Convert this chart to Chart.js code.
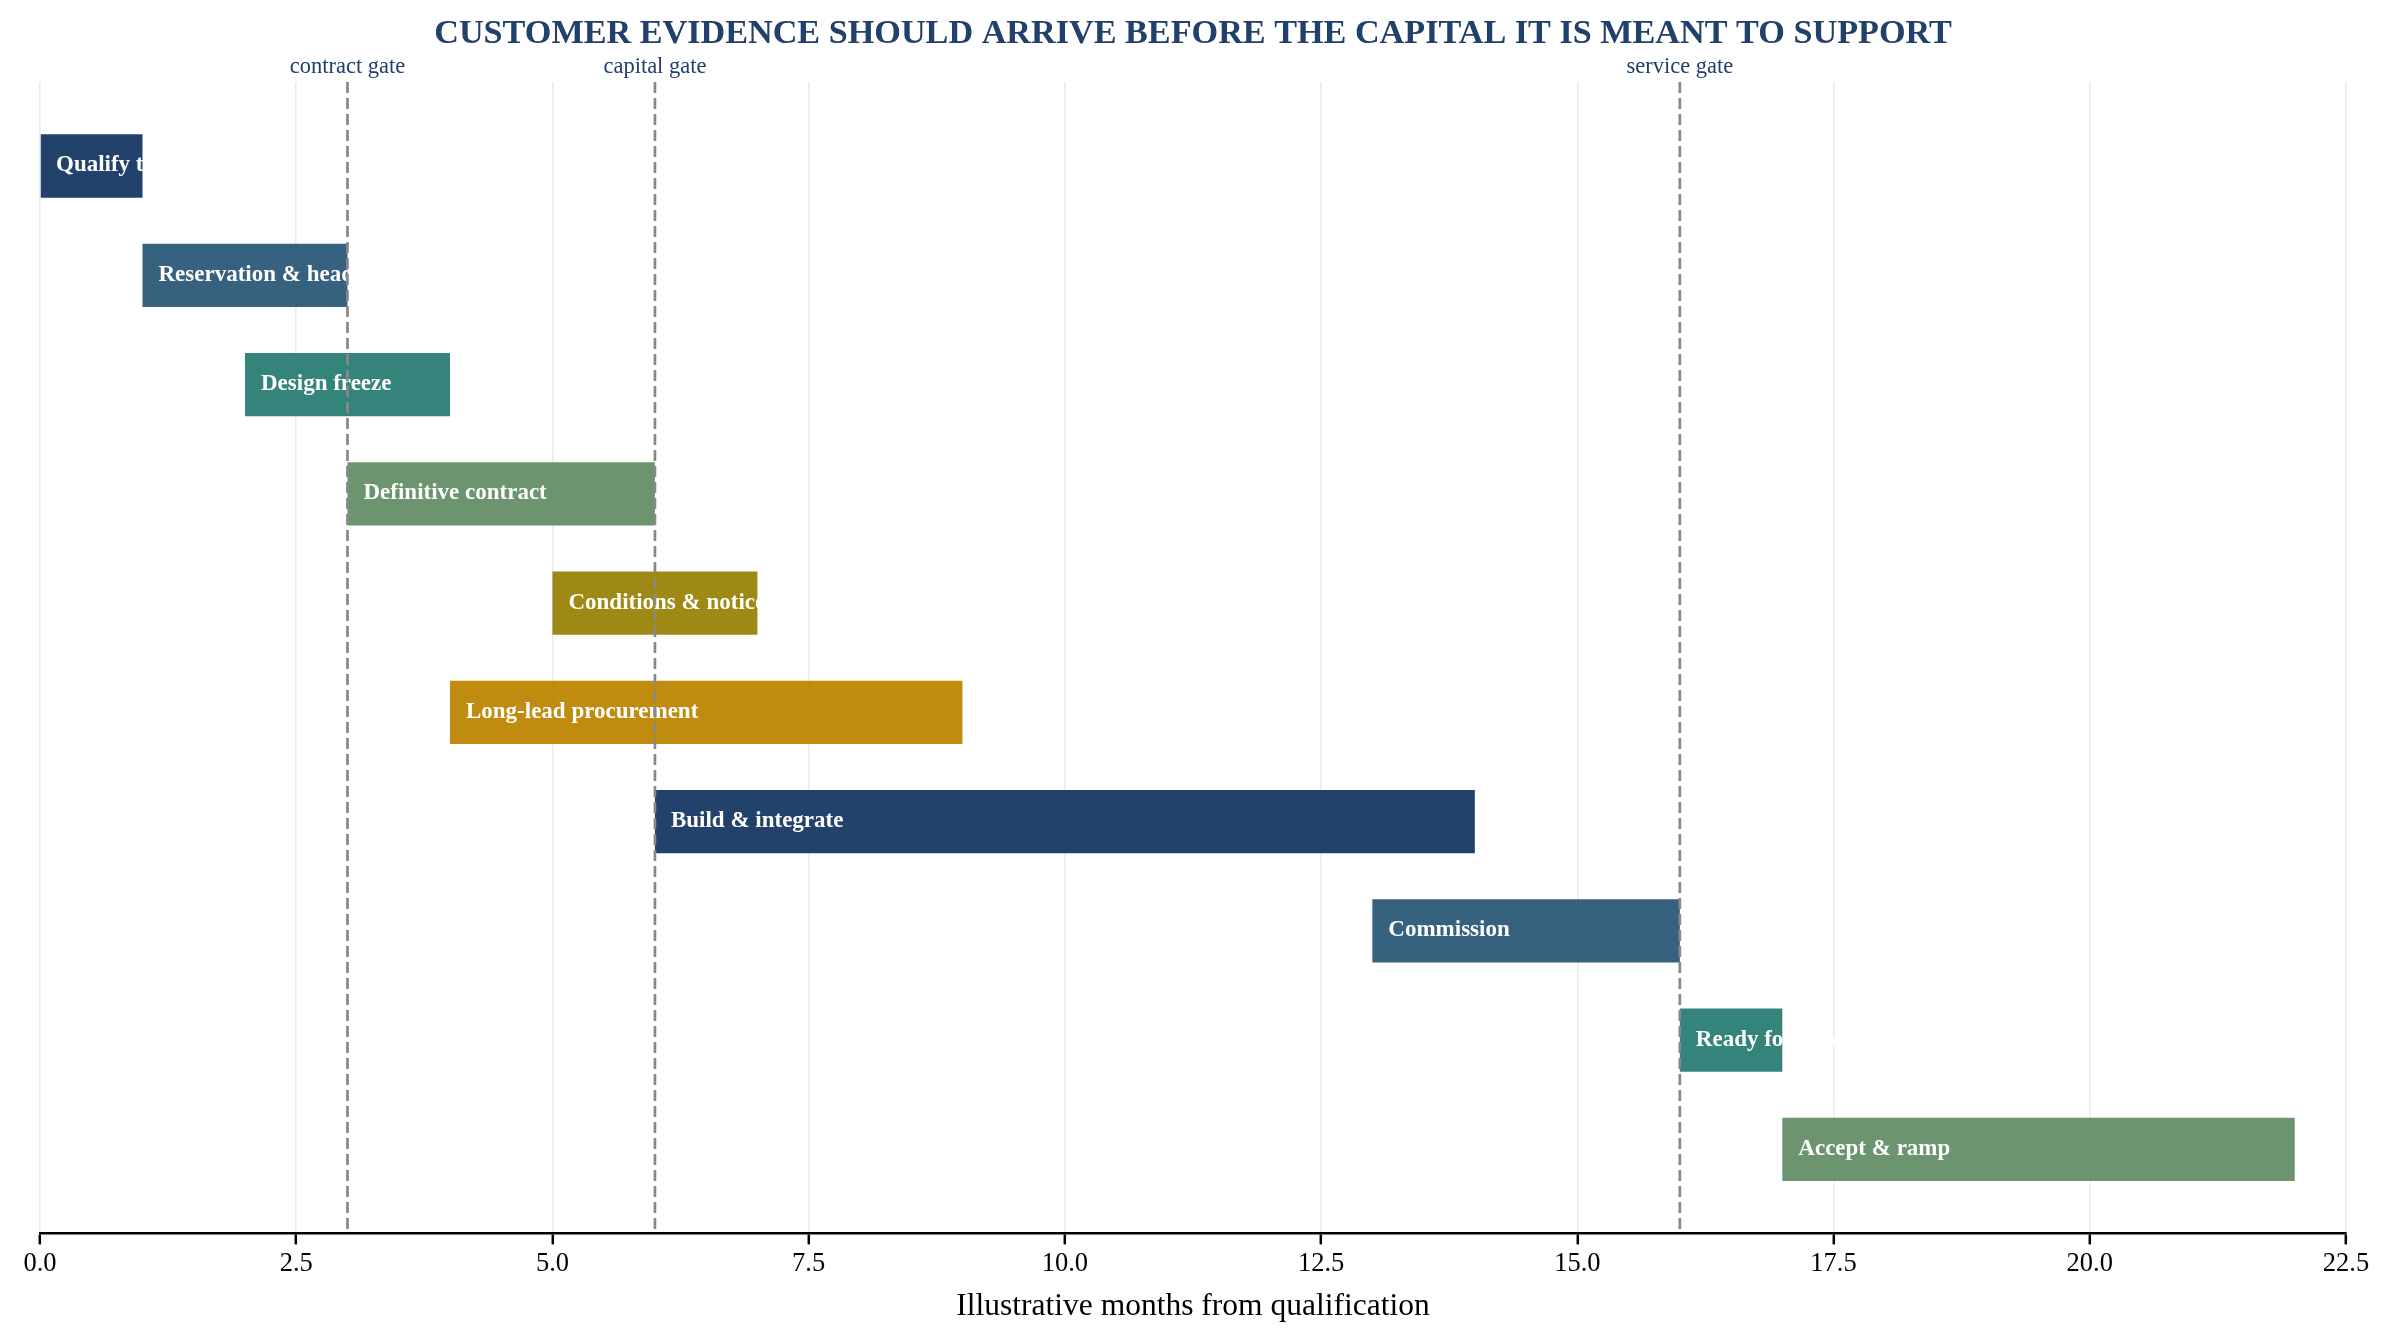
<!DOCTYPE html>
<html>
<head>
<meta charset="utf-8">
<script src="https://cdn.jsdelivr.net/npm/chart.js@4.4.1/dist/chart.umd.min.js"></script>
<style>
  html, body { margin: 0; padding: 0; background: #ffffff; }
  #wrap { width: 2394px; height: 1342px; position: relative; }
</style>
</head>
<body>
<div id="wrap"><canvas id="gantt"></canvas></div>
<script>
// phases, top to bottom
const phases = [
    'Qualify the customer',
    'Reservation & heads of terms',
    'Design freeze',
    'Definitive contract',
    'Conditions & notice to proceed',
    'Long-lead procurement',
    'Build & integrate',
    'Commission',
    'Ready for service',
    'Accept & ramp',
];
const startMonth = [0, 1, 2, 3, 5, 4, 6, 13, 16, 17];
const endMonth = [1, 3, 4, 6, 7, 9, 14, 16, 17, 22];

// milestone gates
const gateNames = ['contract gate', 'capital gate', 'service gate'];
const gateMonth = [3, 6, 16];

// x ticks
const xTicks = [0, 2.5, 5, 7.5, 10, 12.5, 15, 17.5, 20, 22.5];

const palette = ['#173863', '#2b5a79', '#297d75', '#648e67', '#9a8308', '#bd8602'];
const navy = '#21406a';
const serif = '"Liberation Serif", "Times New Roman", serif';

function withAlpha(hex, a) {
    const n = parseInt(hex.slice(1), 16);
    return 'rgba(' + (n >> 16) + ',' + ((n >> 8) & 255) + ',' + (n & 255) + ',' + a + ')';
}

const barData = phases.map((p, i) => ({ x: [startMonth[i], endMonth[i]], y: i }));

// white labels inside the bars, then the dashed gates on top
const ganttOverlay = {
    id: 'ganttOverlay',
    afterDraw(chart) {
        const ctx = chart.ctx;
        const xs = chart.scales.x;
        const area = chart.chartArea;
        const meta = chart.getDatasetMeta(0);

        ctx.save();
        ctx.font = 'bold 23px ' + serif;
        ctx.fillStyle = '#ffffff';
        ctx.textAlign = 'left';
        ctx.textBaseline = 'middle';
        meta.data.forEach((bar, i) => {
            const left = xs.getPixelForValue(startMonth[i]);
            ctx.fillText(phases[i], left + 16, bar.y - 0.5);
        });
        ctx.restore();

        ctx.save();
        ctx.strokeStyle = '#888888';
        ctx.lineWidth = 2.7;
        ctx.setLineDash([11, 5]);
        ctx.font = '22.5px ' + serif;
        ctx.fillStyle = navy;
        ctx.textAlign = 'center';
        ctx.textBaseline = 'middle';
        gateMonth.forEach((m, i) => {
            const x = xs.getPixelForValue(m);
            ctx.beginPath();
            ctx.moveTo(x, area.top);
            ctx.lineTo(x, area.bottom);
            ctx.stroke();
            ctx.fillText(gateNames[i], x, area.top - 15);
        });
        ctx.restore();
    }
};

new Chart(document.getElementById('gantt'), {
    type: 'bar',
    data: {
        datasets: [{
            data: barData,
            backgroundColor: phases.map((p, i) => withAlpha(palette[i % palette.length], 0.95)),
            borderWidth: 0,
            borderSkipped: false,
            categoryPercentage: 1,
            barPercentage: 0.58,
        }],
    },
    options: {
        indexAxis: 'y',
        responsive: true,
        maintainAspectRatio: false,
        devicePixelRatio: 1,
        animation: false,
        events: [],
        layout: {
            padding: { left: 40, right: 48, top: 0, bottom: 16 },
        },
        plugins: {
            legend: { display: false },
            tooltip: { enabled: false },
            title: {
                display: true,
                text: 'CUSTOMER EVIDENCE SHOULD ARRIVE BEFORE THE CAPITAL IT IS MEANT TO SUPPORT',
                color: navy,
                font: { family: serif, size: 34.2, weight: 'bold', lineHeight: 1.2 },
                padding: { top: 14, bottom: 27 },
            },
        },
        scales: {
            x: {
                type: 'linear',
                min: 0,
                max: 22.5,
                afterBuildTicks: (axis) => {
                    axis.ticks = xTicks.map(v => ({ value: v }));
                },
                ticks: {
                    color: '#000000',
                    padding: 4,
                    font: { family: serif, size: 26.5, lineHeight: 1.2 },
                    callback: (v) => Number(v).toFixed(1),
                },
                grid: {
                    color: '#ebebeb',
                    lineWidth: 1.6,
                    drawTicks: true,
                    tickLength: 11,
                    tickColor: '#000000',
                    tickWidth: 2.5,
                },
                border: { display: true, color: '#000000', width: 2.5 },
                title: {
                    display: true,
                    text: 'Illustrative months from qualification',
                    color: '#000000',
                    font: { family: serif, size: 31.5, lineHeight: 1.2 },
                    padding: { top: 4, bottom: 0 },
                },
            },
            y: {
                type: 'linear',
                reverse: true,
                offset: false,
                min: -0.769,
                max: 9.769,
                display: false,
                afterBuildTicks: (axis) => {
                    axis.ticks = phases.map((p, i) => ({ value: i }));
                },
                grid: { display: false },
            },
        },
    },
    plugins: [ganttOverlay],
});
</script>
</body>
</html>
